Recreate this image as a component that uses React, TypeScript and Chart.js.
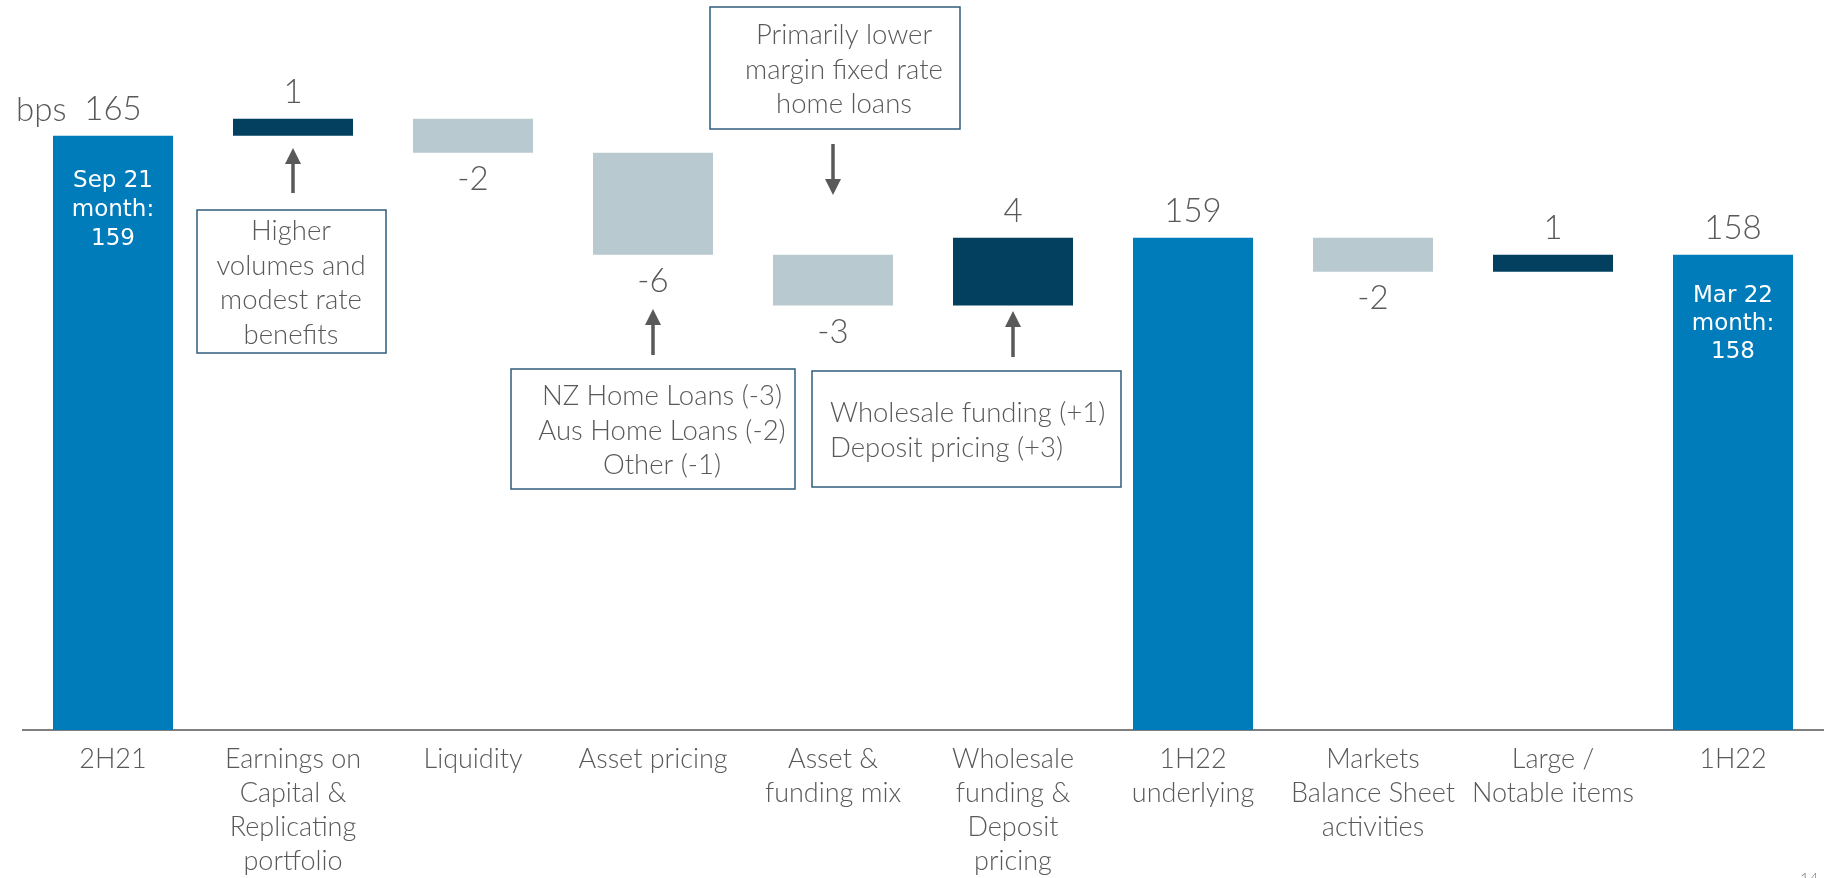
import React, { useEffect, useRef } from "react";
import { Chart, registerables } from "chart.js";

Chart.register(...registerables);

// ---------- data ----------
const categories: string[][] = [
  ["2H21"],
  ["Earnings on", "Capital &", "Replicating", "portfolio"],
  ["Liquidity"],
  ["Asset pricing"],
  ["Asset &", "funding mix"],
  ["Wholesale", "funding &", "Deposit", "pricing"],
  ["1H22", "underlying"],
  ["Markets", "Balance Sheet", "activities"],
  ["Large /", "Notable items"],
  ["1H22"],
];
const values = [165, 1, -2, -6, -3, 4, 159, -2, 1, 158];
const kinds = ["total", "up", "down", "down", "down", "up", "total", "down", "up", "total"];
const valueLabels = ["165", "1", "-2", "-6", "-3", "4", "159", "-2", "1", "158"];
const insideLabels: (string[] | null)[] = [
  ["Sep 21", "month:", "159"],
  null, null, null, null, null, null, null, null,
  ["Mar 22", "month:", "158"],
];
const yMin = 130;
const yMax = 172;

const kindColors: Record<string, string> = {
  total: "#007CBB",
  up: "#03405F",
  down: "#B8C9D0",
};

// annotations (layout only)
const annotationBoxes = [
  { x: 197, y: 210, w: 189, h: 143, align: "center", tx: 291, lines: ["Higher", "volumes and", "modest rate", "benefits"], base: 240 },
  { x: 710, y: 7, w: 250, h: 122, align: "center", tx: 844, lines: ["Primarily lower", "margin fixed rate", "home loans"], base: 44 },
  { x: 511, y: 369, w: 284, h: 120, align: "center", tx: 662, lines: ["NZ Home Loans (-3)", "Aus Home Loans (-2)", "Other (-1)"], base: 405 },
  { x: 812, y: 371, w: 309, h: 116, align: "left", tx: 830, lines: ["Wholesale funding (+1)", "Deposit pricing (+3)"], base: 422 },
];
const arrows = [
  { cat: 1, tip: 148, tail: 193, dir: "up" },
  { cat: 4, tip: 195, tail: 144, dir: "down" },
  { cat: 3, tip: 309, tail: 355, dir: "up" },
  { cat: 5, tip: 311, tail: 357, dir: "up" },
];

const TEXT = "#595959";
const FONT = "Lato, 'Open Sans', sans-serif";

function buildRanges(): [number, number][] {
  const out: [number, number][] = [];
  let running = 0;
  values.forEach((v, i) => {
    if (kinds[i] === "total") {
      out.push([yMin, v]);
      running = v;
    } else {
      out.push([running, running + v]);
      running += v;
    }
  });
  return out;
}

const overlayPlugin = {
  id: "overlay",
  afterDatasetsDraw(chart: any) {
    const ctx = chart.ctx;
    const meta = chart.getDatasetMeta(0);
    const xs = chart.scales.x;
    ctx.save();
    // value labels
    meta.data.forEach((bar: any, i: number) => {
      const top = Math.min(bar.y, bar.base);
      const bottom = Math.max(bar.y, bar.base);
      ctx.font = `300 33px ${FONT}`;
      ctx.fillStyle = TEXT;
      ctx.textAlign = "center";
      ctx.textBaseline = "alphabetic";
      if (kinds[i] === "down") {
        ctx.fillText(valueLabels[i], bar.x, bottom + 37.5);
      } else {
        ctx.fillText(valueLabels[i], bar.x, top - 15.5);
      }
      const inside = insideLabels[i];
      if (inside) {
        ctx.font = `400 23px 'DejaVu Sans', sans-serif`;
        ctx.fillStyle = "#FFFFFF";
        const first = i === 0 ? 51 : 47;
        const step = i === 0 ? 29 : 28;
        inside.forEach((ln, k) => ctx.fillText(ln, bar.x, top + first + k * step));
      }
    });
    // bps
    ctx.font = `300 33px ${FONT}`;
    ctx.fillStyle = TEXT;
    ctx.textAlign = "left";
    ctx.fillText("bps", 16, 121);

    // boxes
    annotationBoxes.forEach((b) => {
      ctx.strokeStyle = "#2F5D7C";
      ctx.lineWidth = 1.5;
      ctx.fillStyle = "#FFFFFF";
      ctx.fillRect(b.x, b.y, b.w, b.h);
      ctx.strokeRect(b.x, b.y, b.w, b.h);
      ctx.font = `300 27.5px ${FONT}`;
      ctx.fillStyle = TEXT;
      ctx.textAlign = b.align as CanvasTextAlign;
      b.lines.forEach((ln, k) => ctx.fillText(ln, b.tx, b.base + k * 34.5));
    });
    // arrows
    arrows.forEach((a) => {
      const x = xs.getPixelForValue(a.cat);
      const head = 16;
      const s = a.dir === "up" ? 1 : -1;
      ctx.strokeStyle = "#595959";
      ctx.fillStyle = "#595959";
      ctx.lineWidth = 3.5;
      ctx.beginPath();
      ctx.moveTo(x, a.tail);
      ctx.lineTo(x, a.tip + s * head * 0.8);
      ctx.stroke();
      ctx.beginPath();
      ctx.moveTo(x, a.tip);
      ctx.lineTo(x - 8, a.tip + s * head);
      ctx.lineTo(x + 8, a.tip + s * head);
      ctx.closePath();
      ctx.fill();
    });
    // page number
    ctx.font = `300 16px ${FONT}`;
    ctx.fillStyle = "#7F7F7F";
    ctx.textAlign = "left";
    ctx.textBaseline = "top";
    ctx.fillText("14", 1800, 871);
    ctx.restore();
  },
};

export default function App() {
  const ref = useRef<HTMLCanvasElement>(null);
  useEffect(() => {
    if (!ref.current) return;
    const ranges = buildRanges();
    const chart = new Chart(ref.current, {
      type: "bar",
      data: {
        labels: categories,
        datasets: [
          {
            data: ranges as any,
            backgroundColor: kinds.map((k) => kindColors[k]),
            borderWidth: 0,
            barPercentage: 1,
            categoryPercentage: 0.6667,
            borderSkipped: false,
          },
        ],
      },
      options: {
        responsive: false,
        animation: false,
        layout: { padding: { top: 17, left: 23, right: 7, bottom: 0 } },
        plugins: { legend: { display: false }, tooltip: { enabled: false } },
        scales: {
          x: {
            grid: { display: false, drawTicks: false },
            border: { display: true, color: "#7F7F7F", width: 2 },
            ticks: {
              color: TEXT,
              font: { family: FONT, size: 27, weight: "300" as any, lineHeight: 1.262 },
              padding: 12,
              maxRotation: 0,
              autoSkip: false,
            },
            afterFit: (scale: any) => {
              scale.height = 148;
            },
          },
          y: { display: false, min: yMin, max: yMax },
        },
      },
      plugins: [overlayPlugin],
    });
    return () => chart.destroy();
  }, []);
  return (
    <div style={{ position: "absolute", left: 0, top: 0, width: 1830, height: 878, background: "#fff" }}>
      <canvas ref={ref} width={1830} height={878} style={{ display: "block" }} />
    </div>
  );
}
